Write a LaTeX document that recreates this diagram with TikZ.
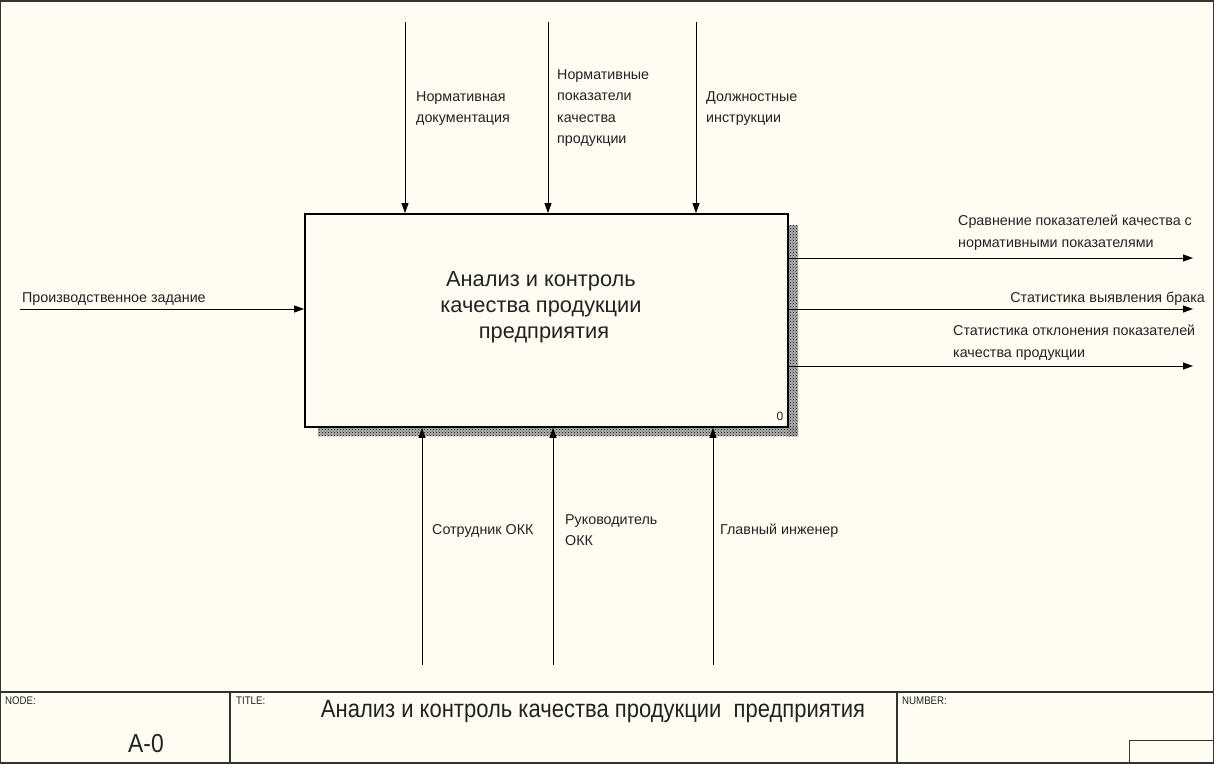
\documentclass[tikz,border=0pt]{standalone}
\usepackage{fontspec}
\setmainfont{Liberation Sans}
\newfontfamily\narrowfont[FakeStretch=0.88]{Liberation Sans}
\usetikzlibrary{arrows.meta,patterns}
\definecolor{paper}{HTML}{FFFCF2}
\definecolor{ink}{HTML}{222222}
\begin{document}
\begin{tikzpicture}[x=1pt,y=-1pt,
  flow/.style={line width=0.9pt,draw=black,-{Triangle[length=10pt,width=7pt]}},
  lbl/.style={font=\fontsize{14.3}{21.5}\selectfont,text=ink,align=left,inner sep=0pt,anchor=north west},
  small/.style={font=\narrowfont\fontsize{11}{12}\selectfont,text=ink,inner sep=0pt,anchor=north west},
  frame/.style={line width=1.4pt,draw=black!80},
  shadowfill/.style={fill=black!30},
  shadow/.style={pattern=crosshatch dots,pattern color=black}]
\useasboundingbox (0,0) rectangle (1214,764);
\fill[paper] (0,0) rectangle (1214,764);
% frame and footer
\draw[frame] (0.7,1) rectangle (1213.3,763);
\draw[frame] (0,692) -- (1214,692);
\draw[frame] (230,692) -- (230,763);
\draw[frame] (897,692) -- (897,763);
\draw[frame,line width=1pt] (1129,763) -- (1129,740) -- (1214,740);
\node[small] (nodelbl) at (5,697) {NODE:};
\node[small] (titlelbl) at (236,697) {TITLE:};
\node[small] (numlbl) at (902,697) {NUMBER:};
\node[font=\narrowfont\fontsize{26}{28}\selectfont,text=ink,inner sep=0pt] (nodeid) at (146,744) {A-0};
\node[font=\narrowfont\fontsize{25}{28}\selectfont,text=ink,inner sep=0pt] (titletext) at (593,711) {Анализ и контроль качества продукции \ предприятия};
% shadow
\path[shadowfill] (788,225) rectangle (798,436);
\path[shadowfill] (318,427) rectangle (798,436);
\path[shadow] (788,225) rectangle (798,436);
\path[shadow] (318,427) rectangle (798,436);
% main box
\node[draw=black,line width=1.8pt,fill=paper,minimum width=483pt,minimum height=213pt,inner sep=0pt] (box) at (546.5,320.5) {};
\node[font=\fontsize{21.8}{26}\selectfont,text=ink,align=center,inner sep=0pt] (boxtext) at (541,307) {Анализ и контроль\\качества продукции\\\hspace{6pt}предприятия};
\node[font=\fontsize{12}{12}\selectfont,text=ink,inner sep=0pt,anchor=base] (boxnum) at (780,420) {0};
% controls (top)
\coordinate (t1) at (405,22);
\coordinate (t2) at (548,22);
\coordinate (t3) at (696,22);
\draw[flow] (t1) -- (t1 |- box.north);
\draw[flow] (t2) -- (t2 |- box.north);
\draw[flow] (t3) -- (t3 |- box.north);
\node[lbl] (t1lbl) at (416,91) {Нормативная\\документация};
\node[lbl] (t2lbl) at (557,69) {Нормативные\\показатели\\качества\\продукции};
\node[lbl] (t3lbl) at (706,91) {Должностные\\инструкции};
% mechanisms (bottom)
\coordinate (b1) at (422,665);
\coordinate (b2) at (553,665);
\coordinate (b3) at (713,665);
\draw[flow] (b1) -- (b1 |- box.south);
\draw[flow] (b2) -- (b2 |- box.south);
\draw[flow] (b3) -- (b3 |- box.south);
\node[lbl] (b1lbl) at (432,524) {Сотрудник ОКК};
\node[lbl] (b2lbl) at (565,514) {Руководитель\\ОКК};
\node[lbl] (b3lbl) at (720,524) {Главный инженер};
% input
\coordinate (in1) at (20,309);
\draw[flow] (in1) -- (in1 -| box.west);
\node[lbl] (in1lbl) at (22,292) {Производственное задание};
% outputs
\coordinate (o1) at (1193,258);
\coordinate (o2) at (1193,309);
\coordinate (o3) at (1193,366);
\draw[flow] (o1 -| box.east) -- (o1);
\draw[flow] (o2 -| box.east) -- (o2);
\draw[flow] (o3 -| box.east) -- (o3);
\node[lbl] (o1lbl) at (958,215) {Сравнение показателей качества с\\нормативными показателями};
\node[lbl,anchor=north east] (o2lbl) at (1205,292) {Статистика выявления брака};
\node[lbl] (o3lbl) at (953,325) {Статистика отклонения показателей\\качества продукции};
\end{tikzpicture}
\end{document}
